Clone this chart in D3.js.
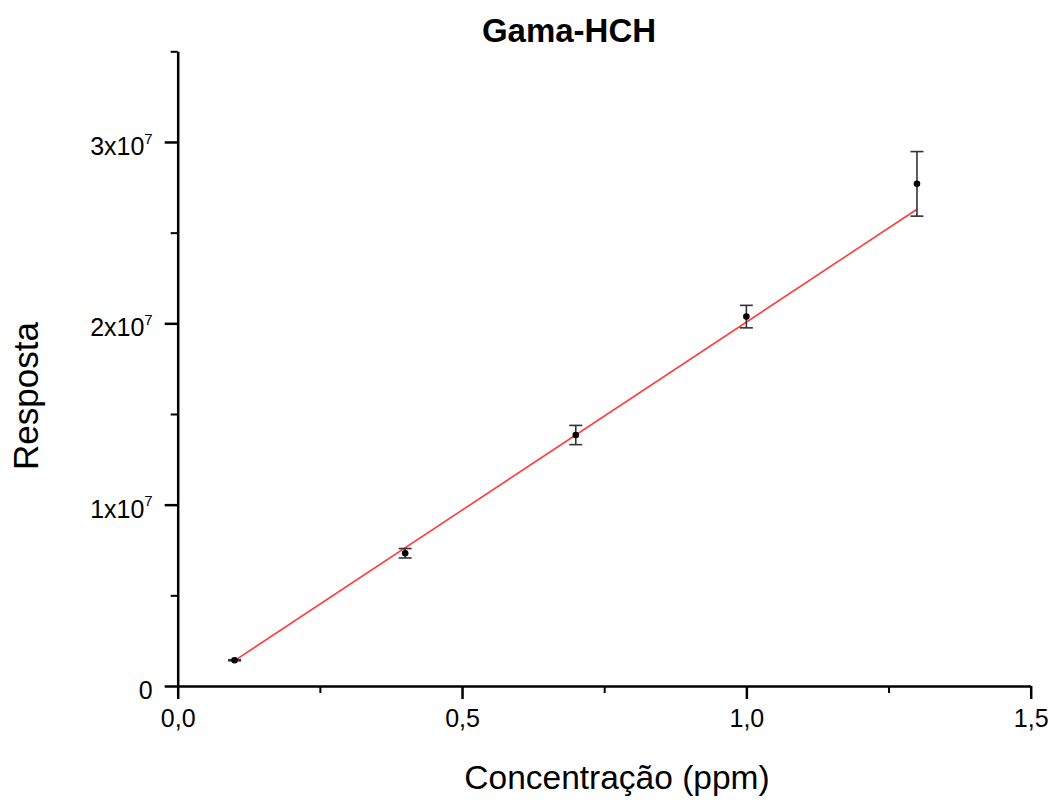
<!DOCTYPE html>
<html>
<head>
<meta charset="utf-8">
<script src="https://cdn.jsdelivr.net/npm/d3@7"></script>
<style>
  body { margin: 0; background: #fff; }
  text { font-family: "Liberation Sans", Arial, sans-serif; fill: #000; }
</style>
</head>
<body>
<div id="graph"></div>
<script>
//Data.
const concentrations = [0.1, 0.4, 0.7, 1.0, 1.3];
const responses = [1.42e6, 7.32e6, 13.84e6, 20.37e6, 27.69e6];
const errors = [0.03e6, 0.26e6, 0.53e6, 0.62e6, 1.78e6];
const fitLine = [[0.1, 1.40e6], [1.3, 26.29e6]];
const xTicks = [0, 0.5, 1.0, 1.5];
const xMinorTicks = [0.25, 0.75, 1.25];
const yTicks = [0, 1e7, 2e7, 3e7];
const yMinorTicks = [0.5e7, 1.5e7, 2.5e7, 3.5e7];

const w = 1056;
const h = 805;
const padLeft = 177.7, padRight = 1030.7, padTop = 51.3, padBottom = 686;

const svg = d3.select("#graph")
  .append("svg")
  .attr("width", w)
  .attr("height", h);

const xScale = d3.scaleLinear().domain([0, 1.5]).range([padLeft, padRight]);
const yScale = d3.scaleLinear().domain([0, 3.5e7]).range([padBottom, padTop]);

//Minor ticks first, then the major axes on top.
svg.append("g")
  .attr("transform", "translate(0," + padBottom + ")")
  .call(d3.axisBottom(xScale).tickValues(xMinorTicks).tickSize(7).tickFormat(""))
  .call(g => g.select(".domain").remove())
  .selectAll("line").attr("stroke-width", 2);

svg.append("g")
  .attr("transform", "translate(" + padLeft + ",0)")
  .call(d3.axisLeft(yScale).tickValues(yMinorTicks).tickSize(7).tickFormat(""))
  .call(g => g.select(".domain").remove())
  .selectAll("line").attr("stroke-width", 2);

const xAxis = svg.append("g")
  .attr("transform", "translate(0," + padBottom + ")")
  .call(d3.axisBottom(xScale).tickValues(xTicks).tickSize(13).tickSizeOuter(0)
    .tickPadding(10).tickFormat(d => d3.format(".1f")(d).replace(".", ",")));
xAxis.select(".domain").attr("stroke-width", 2.5);
xAxis.selectAll("line").attr("stroke-width", 2.5);
xAxis.selectAll("text").attr("font-size", 25).attr("font-family", "Liberation Sans, Arial");

const yAxis = svg.append("g")
  .attr("transform", "translate(" + padLeft + ",0)")
  .call(d3.axisLeft(yScale).tickValues(yTicks).tickSize(13).tickSizeOuter(0)
    .tickPadding(12).tickFormat(""));
yAxis.select(".domain").attr("stroke-width", 2.5);
yAxis.selectAll("line").attr("stroke-width", 2.5);
yAxis.selectAll(".tick text")
  .attr("font-size", 25)
  .attr("font-family", "Liberation Sans, Arial")
  .attr("dy", "0.5em")
  .each(function(d) {
    const t = d3.select(this);
    if (d === 0) { t.text("0"); return; }
    t.append("tspan").text((d / 1e7) + "x10");
    t.append("tspan").text("7").attr("font-size", 15).attr("dy", "-0.75em");
  });

//Fitted line.
svg.append("path")
  .datum(fitLine)
  .attr("fill", "none")
  .attr("stroke", "#ff3b3b")
  .attr("stroke-width", 1.6)
  .attr("d", d3.line().x(d => xScale(d[0])).y(d => yScale(d[1])));

//Error bars.
const bars = svg.append("g").attr("stroke", "#333").attr("stroke-width", 1.6);
concentrations.forEach((c, i) => {
  const x = xScale(c);
  const y0 = yScale(responses[i] - errors[i]);
  const y1 = yScale(responses[i] + errors[i]);
  bars.append("line").attr("x1", x).attr("x2", x).attr("y1", y0).attr("y2", y1);
  bars.append("line").attr("x1", x - 6.5).attr("x2", x + 6.5).attr("y1", y0).attr("y2", y0);
  bars.append("line").attr("x1", x - 6.5).attr("x2", x + 6.5).attr("y1", y1).attr("y2", y1);
});

//Points.
svg.selectAll("circle.dot")
  .data(concentrations)
  .enter()
  .append("circle")
  .attr("class", "dot")
  .attr("cx", d => xScale(d))
  .attr("cy", (d, i) => yScale(responses[i]))
  .attr("r", 3.3)
  .attr("fill", "#000");

//Labels.
svg.append("text")
  .attr("x", 569)
  .attr("y", 42)
  .attr("text-anchor", "middle")
  .attr("font-size", 33)
  .attr("font-weight", "bold")
  .text("Gama-HCH");

svg.append("text")
  .attr("x", 617)
  .attr("y", 789)
  .attr("text-anchor", "middle")
  .attr("font-size", 33.5)
  .text("Concentração (ppm)");

svg.append("text")
  .attr("transform", "translate(38,396) rotate(-90)")
  .attr("text-anchor", "middle")
  .attr("font-size", 35)
  .text("Resposta");
</script>
</body>
</html>
